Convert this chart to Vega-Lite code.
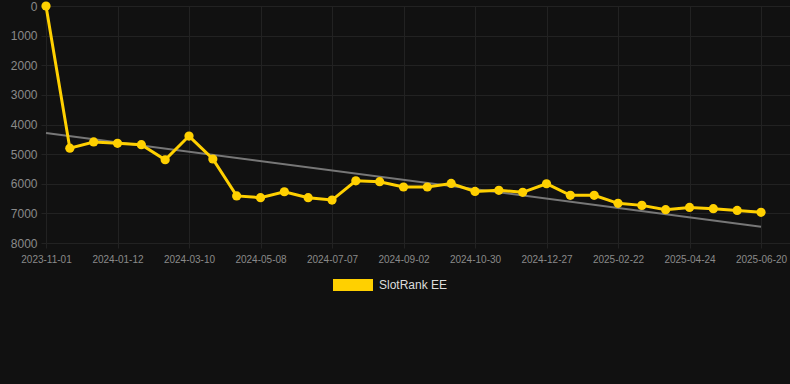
{
  "$schema": "https://vega.github.io/schema/vega-lite/v6.json",
  "autosize": "none",
  "width": 744,
  "height": 237,
  "padding": {"left": 46, "top": 6, "right": 0, "bottom": 141},
  "background": "#111111",
  "config": {
    "view": {"stroke": null},
    "font": "Liberation Sans",
    "axis": {"gridColor": "#222222", "tickColor": "#222222", "domain": false, "labelColor": "#8a8a8a", "labelFont": "Liberation Sans"},
    "axisY": {"labelOverlap": false, "labelFontSize": 12, "tickSize": 5, "labelPadding": 4, "grid": true, "tickCount": 9, "format": "d", "title": null}
  },
  "datasets": {
    "ranks": [
      {"date": "2023-11-01", "rank": 0},
      {"date": "2023-11-25", "rank": 4800},
      {"date": "2023-12-19", "rank": 4590},
      {"date": "2024-01-12", "rank": 4635},
      {"date": "2024-01-31", "rank": 4680},
      {"date": "2024-02-20", "rank": 5190},
      {"date": "2024-03-10", "rank": 4390},
      {"date": "2024-03-30", "rank": 5165},
      {"date": "2024-04-19", "rank": 6410},
      {"date": "2024-05-08", "rank": 6470},
      {"date": "2024-05-28", "rank": 6270},
      {"date": "2024-06-17", "rank": 6470},
      {"date": "2024-07-07", "rank": 6550},
      {"date": "2024-07-26", "rank": 5900},
      {"date": "2024-08-14", "rank": 5930},
      {"date": "2024-09-02", "rank": 6110},
      {"date": "2024-09-21", "rank": 6110},
      {"date": "2024-10-10", "rank": 5990},
      {"date": "2024-10-30", "rank": 6260},
      {"date": "2024-11-18", "rank": 6220},
      {"date": "2024-12-07", "rank": 6290},
      {"date": "2024-12-27", "rank": 6000},
      {"date": "2025-01-15", "rank": 6390},
      {"date": "2025-02-03", "rank": 6390},
      {"date": "2025-02-22", "rank": 6660},
      {"date": "2025-03-14", "rank": 6730},
      {"date": "2025-04-03", "rank": 6875},
      {"date": "2025-04-24", "rank": 6800},
      {"date": "2025-05-13", "rank": 6840},
      {"date": "2025-06-01", "rank": 6900},
      {"date": "2025-06-20", "rank": 6965}
    ],
    "trend": [
      {"date": "2023-11-01", "trend": 4290},
      {"date": "2025-06-20", "trend": 7450}
    ]
  },
  "encoding": {
    "x": {
      "field": "date",
      "type": "ordinal",
      "scale": {"type": "point", "padding": 0.608, "align": 0},
      "axis": {
        "title": null,
        "labelAngle": 0,
        "labelFontSize": 10,
        "tickSize": 5,
        "labelPadding": 6,
        "grid": true,
        "values": ["2023-11-01", "2024-01-12", "2024-03-10", "2024-05-08", "2024-07-07", "2024-09-02", "2024-10-30", "2024-12-27", "2025-02-22", "2025-04-24", "2025-06-20"]
      }
    }
  },
  "layer": [
    {
      "data": {"name": "trend"},
      "mark": {"type": "line", "color": "#777777", "strokeWidth": 2},
      "encoding": {
        "y": {
          "field": "trend",
          "type": "quantitative",
          "scale": {"domain": [0, 8000], "reverse": true, "nice": false, "zero": false},
          "axis": {"tickCount": 9}
        }
      }
    },
    {
      "data": {"name": "ranks"},
      "mark": {"type": "line", "strokeWidth": 3},
      "encoding": {
        "y": {"field": "rank", "type": "quantitative", "axis": {"tickCount": 9}},
        "color": {
          "datum": "SlotRank EE",
          "type": "nominal",
          "scale": {"range": ["#FFD000"]},
          "legend": {
            "title": null,
            "orient": "none",
            "legendX": 287,
            "legendY": 259,
            "padding": 0,
            "labelFontSize": 12,
            "labelColor": "#dddddd",
            "labelOffset": 6,
            "symbolType": "M-1,-0.3H1V0.3H-1Z",
            "symbolSize": 1600,
            "encode": {
              "symbols": {
                "update": {
                  "fill": {"value": "#FFD000"},
                  "stroke": {"value": "transparent"},
                  "strokeWidth": {"value": 0},
                  "shape": {"value": "M-1,-0.3H1V0.3H-1Z"},
                  "size": {"value": 1600}
                }
              }
            }
          }
        }
      }
    },
    {
      "data": {"name": "ranks"},
      "mark": {"type": "point", "filled": true, "size": 85, "opacity": 1, "color": "#FFD000"},
      "encoding": {
        "y": {"field": "rank", "type": "quantitative", "axis": {"tickCount": 9}}
      }
    }
  ]
}
